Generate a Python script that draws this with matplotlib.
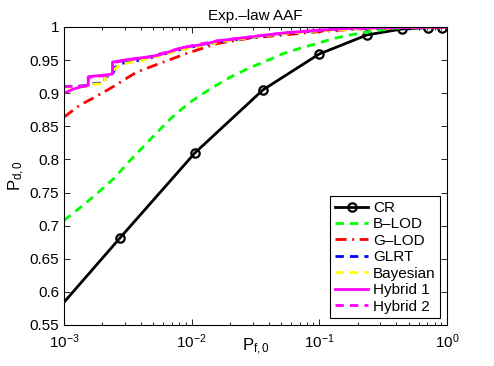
import numpy as np
import matplotlib
matplotlib.use("Agg")
import matplotlib.pyplot as plt
from matplotlib.ticker import FixedLocator, LogLocator, NullFormatter

plt.rcParams['font.family'] = ['Liberation Sans', 'DejaVu Sans']
plt.rcParams['mathtext.default'] = 'regular'
plt.rcParams['mathtext.fontset'] = 'custom'
plt.rcParams['mathtext.rm'] = 'Liberation Sans'
plt.rcParams['mathtext.it'] = 'Liberation Sans'

title = "Exp.\u2013law AAF"
xlabel = "$P_{f,0}$"
ylabel = "$P_{d,0}$"
labels = ["CR", "B\u2013LOD", "G\u2013LOD", "GLRT", "Bayesian", "Hybrid 1", "Hybrid 2"]

# CR (log10 Pf, Pd)
cr_logx = [-3.11, -2.559, -1.974, -1.442, -1.003, -0.627, -0.353, -0.150, -0.040]
cr_y    = [0.560, 0.682, 0.810, 0.905, 0.959, 0.988, 0.997, 0.999, 0.999]

blod_logx = [-3.0, -2.875, -2.75, -2.6, -2.5, -2.4, -2.25, -2.13, -2.0, -1.85, -1.7,
             -1.55, -1.4, -1.28, -1.15, -1.02, -0.9, -0.76, -0.6, -0.42, -0.2, 0.0]
blod_y = [0.708, 0.727, 0.747, 0.773, 0.795, 0.815, 0.845, 0.868, 0.888, 0.907, 0.924,
          0.938, 0.950, 0.960, 0.968, 0.975, 0.982, 0.988, 0.993, 0.998, 1.0, 1.0]

glod_logx = [-3.0, -2.875, -2.75, -2.64, -2.43, -2.25, -2.04, -1.8, -1.55, -1.28, -1.0, -0.7, -0.4, 0.0]
glod_y = [0.864, 0.882, 0.895, 0.907, 0.932, 0.945, 0.960, 0.975, 0.983, 0.988, 0.993, 0.997, 0.999, 1.0]

glrt_logx = [-3.0, -2.85, -2.75, -2.68, -2.68, -2.62, -2.6, -2.55, -2.4, -2.33, -2.07, -1.8,
             -1.54, -1.28, -1.02, -0.76, -0.5, 0.0]
glrt_y = [0.910, 0.911, 0.915, 0.915, 0.925, 0.927, 0.939, 0.945, 0.950, 0.953, 0.967, 0.977,
          0.984, 0.990, 0.994, 0.997, 0.999, 1.0]

bayes_logx = [-3.0, -2.85, -2.75, -2.68, -2.68, -2.6, -2.55, -2.4, -2.07, -1.8, -1.54, -1.28, -1.02, -0.5, 0.0]
bayes_y = [0.909, 0.910, 0.914, 0.914, 0.924, 0.937, 0.944, 0.949, 0.966, 0.977, 0.984, 0.990, 0.994, 0.999, 1.0]

hyb1_logx = [-3.0, -2.93, -2.86, -2.81, -2.81, -2.70, -2.62, -2.62, -2.50, -2.33, -2.25, -2.07,
             -1.90, -1.80, -1.54, -1.28, -1.02, -0.76, -0.50, -0.20, 0.0]
hyb1_y = [0.900, 0.906, 0.910, 0.912, 0.925, 0.927, 0.929, 0.947, 0.951, 0.955, 0.958, 0.969,
          0.974, 0.979, 0.985, 0.991, 0.995, 0.998, 0.999, 1.0, 1.0]

hyb2_logx = [-3.0, -2.81, -2.81, -2.62, -2.62, -2.50, -2.33, -2.07, -1.80, -1.54, -1.28, -1.02, -0.76, -0.5, 0.0]
hyb2_y = [0.910, 0.911, 0.924, 0.928, 0.946, 0.950, 0.955, 0.969, 0.979, 0.985, 0.991, 0.995, 0.998, 0.999, 1.0]

yticks = [0.55, 0.6, 0.65, 0.7, 0.75, 0.8, 0.85, 0.9, 0.95, 1.0]
yticklabels = ["0.55", "0.6", "0.65", "0.7", "0.75", "0.8", "0.85", "0.9", "0.95", "1"]
xticks = [1e-3, 1e-2, 1e-1, 1e0]
xticklabels = ["$10^{-3}$", "$10^{-2}$", "$10^{-1}$", "$10^{0}$"]

fig = plt.figure(figsize=(4.94, 3.66), dpi=100)
ax = fig.add_axes([64/494, 41/366, 383/494, 298/366])

def px(l):
    return 10.0 ** np.asarray(l)

ax.plot(px(cr_logx), cr_y, color='k', lw=2, marker='o', ms=6, mfc='none', mew=1.6, label=labels[0])
ax.plot(px(blod_logx), blod_y, color='#00ff00', lw=2, ls=(0, (3, 2.2)), label=labels[1])
ax.plot(px(glod_logx), glod_y, color='#ff0000', lw=2, ls=(0, (4, 2, 0.7, 2)), label=labels[2])
ax.plot(px(glrt_logx), glrt_y, color='#0000ff', lw=2, ls=(0, (3, 2.2)), label=labels[3])
ax.plot(px(bayes_logx), bayes_y, color='#ffff00', lw=2, ls=(0, (3, 2.2)), label=labels[4])
ax.plot(px(hyb1_logx), hyb1_y, color='#ff00ff', lw=2, ls='-', label=labels[5])
ax.plot(px(hyb2_logx), hyb2_y, color='#ff00ff', lw=2, ls=(0, (3, 2.2)), label=labels[6])

ax.set_xscale('log')
ax.set_xlim(1e-3, 1)
ax.set_ylim(0.55, 1.0)
ax.set_yticks(yticks)
ax.set_yticklabels(yticklabels)
ax.xaxis.set_major_locator(FixedLocator(xticks))
ax.set_xticklabels(xticklabels)
ax.xaxis.set_minor_locator(LogLocator(base=10, subs=np.arange(2, 10)))
ax.xaxis.set_minor_formatter(NullFormatter())
ax.tick_params(which='both', direction='in', top=True, right=True, labelsize=11, width=0.6)
ax.tick_params(which='major', length=4)
ax.tick_params(which='minor', length=2)
ax.tick_params(axis='x', pad=5)
for s in ax.spines.values():
    s.set_linewidth(0.8)

ax.set_title(title, fontsize=11, pad=5)
ax.set_xlabel(xlabel, fontsize=12, labelpad=-10)
ax.set_ylabel(ylabel, fontsize=12, labelpad=2)

leg = ax.legend(loc='lower right', fontsize=11, handlelength=2.2, handletextpad=0.3,
                labelspacing=0.16, borderpad=0.3, borderaxespad=0.45, fancybox=False,
                framealpha=1, edgecolor='k')
leg.get_frame().set_linewidth(0.8)

fig.savefig('out.png', dpi=100)
